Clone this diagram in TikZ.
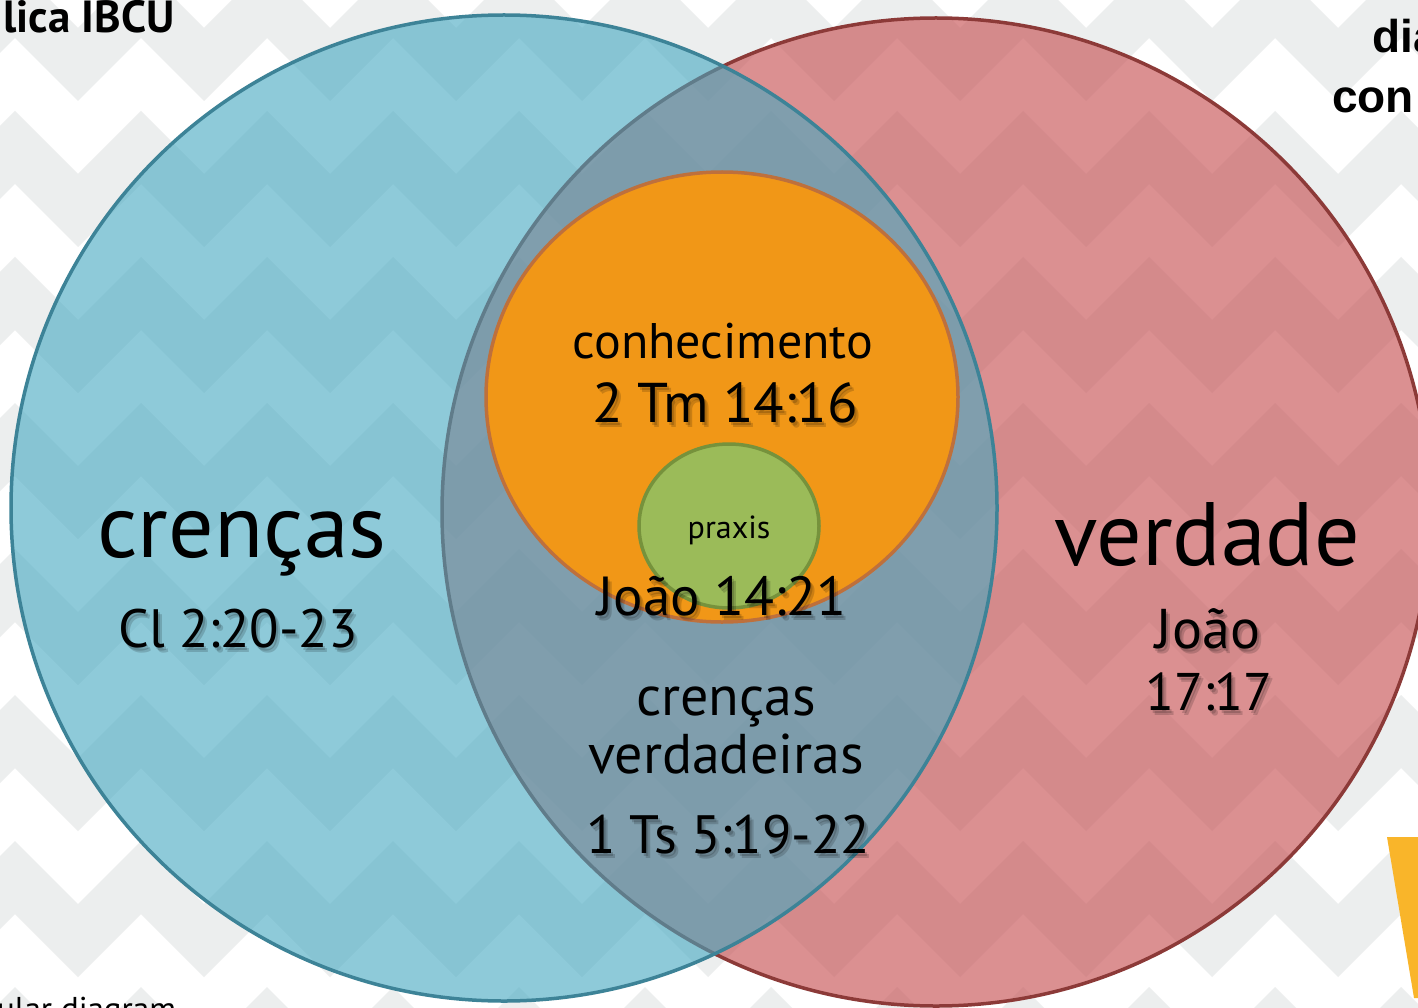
\documentclass[tikz,border=0pt]{standalone}
\usepackage{fontspec}
\setmainfont{PT Sans}
\newfontfamily\slidefont{Liberation Sans}
\usepackage{tikz}
\usetikzlibrary{calc}
\definecolor{chevgray}{RGB}{236,238,238}
\definecolor{bluefill}{RGB}{68,168,193}
\definecolor{blueline}{RGB}{61,131,151}
\definecolor{redfill}{RGB}{200,85,87}
\definecolor{redline}{RGB}{140,58,56}
\definecolor{knowfill}{RGB}{241,151,23}
\definecolor{knowline}{RGB}{190,112,60}
\definecolor{praxfill}{RGB}{155,187,89}
\definecolor{praxline}{RGB}{118,146,60}
\definecolor{accent}{RGB}{249,181,42}
\newcommand{\chevrow}[1] % top of the grey band, in px
{
	\fill[chevron] (-174,#1+63)
		\foreach \k in {-1,...,11} { -- ({15+126*\k},#1) -- ({78+126*\k},#1+63) }
		-- ++(0,73)
		\foreach \k in {11,10,...,-1} { -- ({15+126*\k},#1+73) -- ({-48+126*\k},#1+136) }
		-- cycle;
}
\newcommand{\versetext}[5] % name, x, y (baseline), size in px, text
{
	% soft shadow
	\node[vtext, opacity=0.16] (#1-sa) at (#2+2,#3+3) {\fontsize{#4}{#4}\selectfont #5};
	\node[vtext, opacity=0.16] (#1-sb) at (#2+4,#3+5) {\fontsize{#4}{#4}\selectfont #5};
	% text
	\node[vtext] (#1) at (#2,#3) {\fontsize{#4}{#4}\selectfont #5};
}
\tikzset{
	chevron/.style={fill=chevgray},
	vtext/.style={anchor=base, inner sep=0pt, text=black},
	belief/.style={draw=blueline, fill=bluefill, fill opacity=0.6, line width=3.5pt},
	truth/.style={draw=redline, fill=redfill, fill opacity=0.65, line width=3.5pt},
	knowledge/.style={draw=knowline, fill=knowfill, line width=3.5pt},
	practice/.style={draw=praxline, fill=praxfill, line width=3.5pt}
}
\begin{document}
\begin{tikzpicture}[x=1pt, y=-1pt]
	% page 1418 x 1008 px, 1px = 1pt
	\useasboundingbox (0,0) rectangle (1418,1008);
	\clip (0,0) rectangle (1418,1008);
	\fill[white] (0,0) rectangle (1418,1008);
	
	% chevron background
	\foreach \m in {0,...,7}
		\chevrow{-35+146*\m};
	
	% slide leftovers
	\node[anchor=base west, inner sep=0pt, font=\bfseries\fontsize{45}{45}\selectfont] (slidetitle) at (3,33) {lica IBCU};
	\node[anchor=base west, inner sep=0pt, font=\fontsize{33}{33}\selectfont] (slidefoot) at (-3,1020) {ular diagram};
	\node[anchor=base west, inner sep=0pt, font=\slidefont\bfseries\fontsize{46}{46}\selectfont] (sidetop) at (1372,53) {dia};
	\node[anchor=base west, inner sep=0pt, font=\slidefont\bfseries\fontsize{46}{46}\selectfont] (sidebottom) at (1332,113) {con};
	\fill[accent] (1387,837) -- (1420,837) -- (1420,998) -- (1414,998) -- cycle;
	
	% the two sets
	\draw[truth] (936,512) circle (494);
	\draw[belief] (504,508) circle (493);
	
	% knowledge and praxis
	\draw[knowledge] (722,397) ellipse [x radius=236, y radius=225];
	\draw[practice] (729,526) ellipse [x radius=90, y radius=82];
	
	% left set
	\node[vtext] (beliefs) at (242,557) {\fontsize{90}{90}\selectfont crenças};
	\versetext{colossians}{238}{647}{54}{Cl 2:20-23};
	
	% right set
	\node[vtext] (truthword) at (1207,565) {\fontsize{90}{90}\selectfont verdade};
	\versetext{johnA}{1208}{648}{56}{João};
	\versetext{johnB}{1209}{710}{53}{17:17};
	
	% inner circles
	\node[vtext] (knows) at (723,358) {\fontsize{50}{50}\selectfont conhecimento};
	\versetext{timothy}{725}{422}{56}{2 Tm 14:16};
	\node[vtext] (praxis) at (729,538) {\fontsize{32}{32}\selectfont praxis};
	\versetext{johnC}{722}{615}{55}{João 14:21};
	
	% overlap
	\node[vtext] (truebel) at (726,715) {\fontsize{56}{56}\selectfont crenças};
	\node[vtext] (truebelB) at (726,773) {\fontsize{56}{56}\selectfont verdadeiras};
	\versetext{thess}{728}{853}{54}{1 Ts 5:19-22};
	
\end{tikzpicture}
\end{document}
